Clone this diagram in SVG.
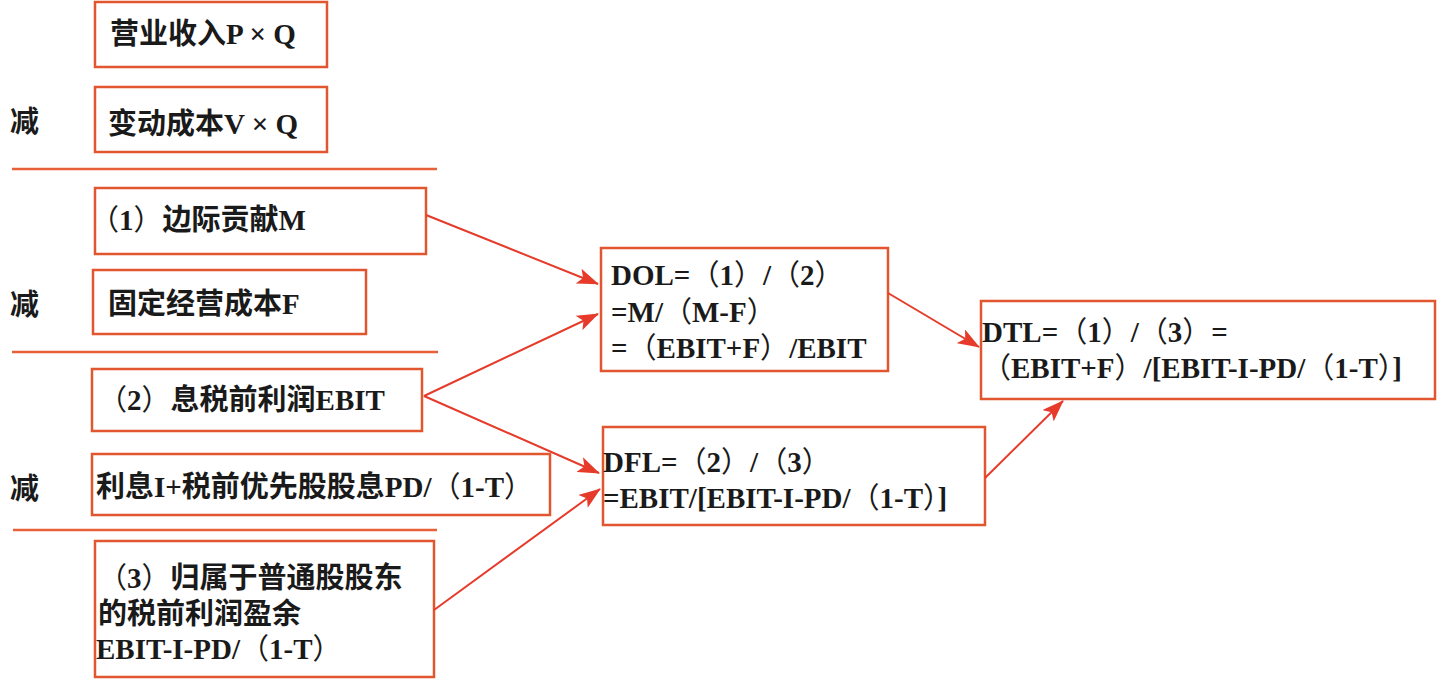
<svg xmlns="http://www.w3.org/2000/svg" width="1444" height="683" viewBox="0 0 1444 683">
<style>
.box{fill:#fff;stroke:#e2562f;stroke-width:2.5}
.sep{stroke:#e8603a;stroke-width:2.5}
.t{font-family:"Liberation Serif","Noto Sans CJK SC",serif;font-size:29px;font-weight:bold;fill:#1a1a1a}
.b{font-family:"Noto Sans CJK SC",sans-serif;font-weight:bold}
.p{font-family:"Noto Sans CJK SC",sans-serif;font-weight:normal}
.arr{stroke:#e63b2a;stroke-width:2;fill:none;marker-end:url(#ah)}
</style>
<defs>
<marker id="ah" markerUnits="userSpaceOnUse" markerWidth="24" markerHeight="16" refX="21" refY="8" orient="auto">
<path d="M0,0 L22,8 L0,16 L5,8 z" fill="#e63b2a"/>
</marker>
</defs>
<rect width="1444" height="683" fill="#fff"/>
<g id="labels">
<text class="t b" x="10" y="132">减</text>
<text class="t b" x="10" y="315">减</text>
<text class="t b" x="10" y="499">减</text>
</g>
<g id="separators">
<line class="sep" x1="12" y1="169" x2="437" y2="169"/>
<line class="sep" x1="12" y1="352" x2="438" y2="352"/>
<line class="sep" x1="13" y1="530" x2="437" y2="530"/>
</g>
<g id="revenue">
<rect class="box" x="95" y="2" width="232" height="65"/>
<text class="t" x="110" y="44"><tspan class="b">营业收入</tspan>P × Q</text>
</g>
<g id="variable-cost">
<rect class="box" x="95" y="87" width="232" height="65"/>
<text class="t" x="108" y="134"><tspan class="b">变动成本</tspan>V × Q</text>
</g>
<g id="margin">
<rect class="box" x="95" y="188" width="331" height="66"/>
<text class="t" x="90" y="230"><tspan class="p">（</tspan>1<tspan class="p">）</tspan><tspan class="b">边际贡献</tspan>M</text>
</g>
<g id="fixed-cost">
<rect class="box" x="93" y="270" width="273" height="64"/>
<text class="t" x="108" y="314"><tspan class="b">固定经营成本</tspan>F</text>
</g>
<g id="ebit">
<rect class="box" x="92" y="369" width="330" height="62"/>
<text class="t" x="98" y="410"><tspan class="p">（</tspan>2<tspan class="p">）</tspan><tspan class="b">息税前利润</tspan>EBIT</text>
</g>
<g id="interest">
<rect class="box" x="92" y="454" width="458" height="61"/>
<text class="t" x="96" y="497"><tspan class="b">利息</tspan>I+<tspan class="b">税前优先股股息</tspan>PD/<tspan class="p">（</tspan>1-T<tspan class="p">）</tspan></text>
</g>
<g id="common-profit">
<rect class="box" x="95" y="541" width="339" height="136"/>
<text class="t" x="98" y="588"><tspan class="p">（</tspan>3<tspan class="p">）</tspan><tspan class="b">归属于普通股股东</tspan></text>
<text class="t b" x="98" y="624">的税前利润盈余</text>
<text class="t" x="96" y="659">EBIT-I-PD/<tspan class="p">（</tspan>1-T<tspan class="p">）</tspan></text>
</g>
<g id="dol">
<rect class="box" x="601" y="248" width="287" height="123"/>
<text class="t" x="611" y="285">DOL=<tspan class="p">（</tspan>1<tspan class="p">）</tspan>/<tspan class="p">（</tspan>2<tspan class="p">）</tspan></text>
<text class="t" x="611" y="322">=M/<tspan class="p">（</tspan>M-F<tspan class="p">）</tspan></text>
<text class="t" x="611" y="358">=<tspan class="p">（</tspan>EBIT+F<tspan class="p">）</tspan>/EBIT</text>
</g>
<g id="dfl">
<rect class="box" x="603" y="427" width="382" height="98"/>
<text class="t" x="603" y="472">DFL=<tspan class="p">（</tspan>2<tspan class="p">）</tspan>/<tspan class="p">（</tspan>3<tspan class="p">）</tspan></text>
<text class="t" x="603" y="508">=EBIT/[EBIT-I-PD/<tspan class="p">（</tspan>1-T<tspan class="p">）</tspan>]</text>
</g>
<g id="dtl">
<rect class="box" x="981" y="301" width="454" height="98"/>
<text class="t" x="982" y="342">DTL=<tspan class="p">（</tspan>1<tspan class="p">）</tspan>/<tspan class="p">（</tspan>3<tspan class="p">）</tspan>=</text>
<text class="t" x="982" y="378"><tspan class="p">（</tspan>EBIT+F<tspan class="p">）</tspan>/[EBIT-I-PD/<tspan class="p">（</tspan>1-T<tspan class="p">）</tspan>]</text>
</g>
<g id="connectors">
<line class="arr" x1="426" y1="215" x2="598" y2="284"/>
<line class="arr" x1="424" y1="396" x2="598" y2="314"/>
<line class="arr" x1="424" y1="396" x2="599" y2="473"/>
<line class="arr" x1="434" y1="610" x2="600" y2="489"/>
<line class="arr" x1="888" y1="293" x2="979" y2="347"/>
<line class="arr" x1="985" y1="478" x2="1063" y2="401"/>
</g>
</svg>
